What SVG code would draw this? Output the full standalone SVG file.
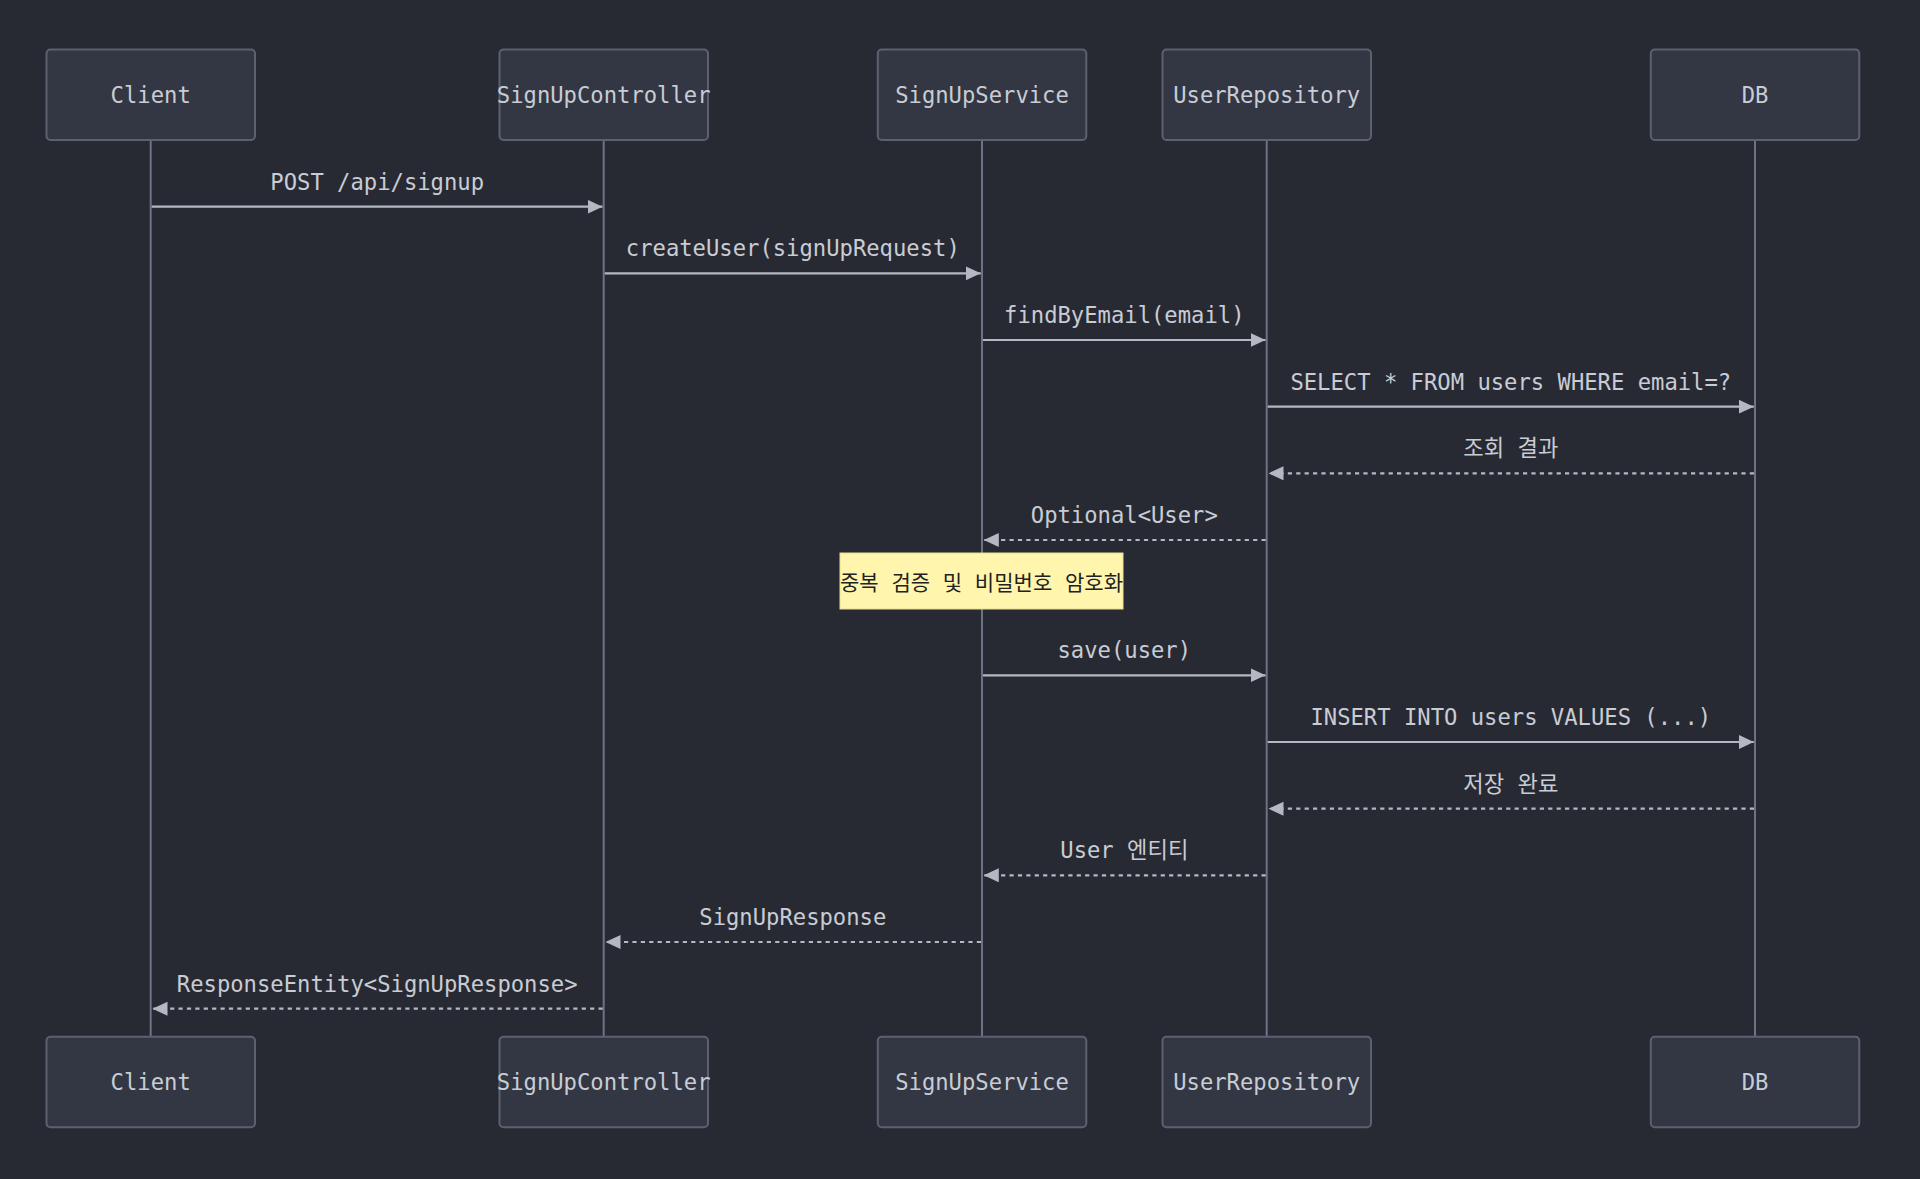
<svg xmlns="http://www.w3.org/2000/svg" width="1920" height="1179" viewBox="0 0 1920 1179">
<style>
.bg{fill:#282a33}
.actor rect{fill:#333743;stroke:#5b6170;stroke-width:2}
.actor text{fill:#c8ccd4;font-family:"DejaVu Sans Mono","Noto Sans CJK KR",monospace;font-size:22.2px;text-anchor:middle}
.life{stroke:#6b7385;stroke-width:2}
.msg{stroke:#b4b8c2;stroke-width:2.2;fill:none}
.dash{stroke-dasharray:4.2,4.2}
.lbl{fill:#c8ccd4;font-family:"DejaVu Sans Mono","Noto Sans CJK KR",monospace;font-size:22.2px;text-anchor:middle}
.note rect{fill:#fff5ad;stroke:#e8dc94;stroke-width:1}
.note text{fill:#222222;font-family:"DejaVu Sans Mono","Noto Sans CJK KR",monospace;font-size:21px;text-anchor:middle}
</style>
<defs>
<marker id="ah" markerUnits="userSpaceOnUse" markerWidth="16" markerHeight="15" refX="15" refY="7" orient="auto">
<path d="M0,0 L15,7 L0,14 z" fill="#b4b8c2"/>
</marker>
</defs>
<rect class="bg" x="0" y="0" width="1920" height="1179"/>
<g id="lifelines">
<line class="life" x1="150.7" y1="140" x2="150.7" y2="1037"/>
<line class="life" x1="603.7" y1="140" x2="603.7" y2="1037"/>
<line class="life" x1="982" y1="140" x2="982" y2="1037"/>
<line class="life" x1="1266.7" y1="140" x2="1266.7" y2="1037"/>
<line class="life" x1="1755" y1="140" x2="1755" y2="1037"/>
</g>
<g id="actor-client-top" class="actor"><rect x="46.5" y="49.5" width="208.5" height="90.5" rx="4"/><text x="150.7" y="103">Client</text></g>
<g id="actor-controller-top" class="actor"><rect x="499.5" y="49.5" width="208.5" height="90.5" rx="4"/><text x="603.7" y="103">SignUpController</text></g>
<g id="actor-service-top" class="actor"><rect x="877.8" y="49.5" width="208.5" height="90.5" rx="4"/><text x="982" y="103">SignUpService</text></g>
<g id="actor-repo-top" class="actor"><rect x="1162.5" y="49.5" width="208.5" height="90.5" rx="4"/><text x="1266.7" y="103">UserRepository</text></g>
<g id="actor-db-top" class="actor"><rect x="1650.8" y="49.5" width="208.5" height="90.5" rx="4"/><text x="1755" y="103">DB</text></g>
<g id="actor-client-bottom" class="actor"><rect x="46.5" y="1036.8" width="208.5" height="90.5" rx="4"/><text x="150.7" y="1090">Client</text></g>
<g id="actor-controller-bottom" class="actor"><rect x="499.5" y="1036.8" width="208.5" height="90.5" rx="4"/><text x="603.7" y="1090">SignUpController</text></g>
<g id="actor-service-bottom" class="actor"><rect x="877.8" y="1036.8" width="208.5" height="90.5" rx="4"/><text x="982" y="1090">SignUpService</text></g>
<g id="actor-repo-bottom" class="actor"><rect x="1162.5" y="1036.8" width="208.5" height="90.5" rx="4"/><text x="1266.7" y="1090">UserRepository</text></g>
<g id="actor-db-bottom" class="actor"><rect x="1650.8" y="1036.8" width="208.5" height="90.5" rx="4"/><text x="1755" y="1090">DB</text></g>
<g id="messages">
<line class="msg" x1="151.7" y1="206.7" x2="602.5" y2="206.7" marker-end="url(#ah)"/>
<text class="lbl" x="377.2" y="189.7">POST /api/signup</text>
<line class="msg" x1="604.7" y1="273.3" x2="980.8" y2="273.3" marker-end="url(#ah)"/>
<text class="lbl" x="792.8" y="256.3">createUser(signUpRequest)</text>
<line class="msg" x1="983" y1="340" x2="1265.5" y2="340" marker-end="url(#ah)"/>
<text class="lbl" x="1124.3" y="323">findByEmail(email)</text>
<line class="msg" x1="1267.7" y1="406.7" x2="1753.8" y2="406.7" marker-end="url(#ah)"/>
<text class="lbl" x="1510.8" y="389.7">SELECT * FROM users WHERE email=?</text>
<line class="msg dash" x1="1754" y1="473.3" x2="1268.5" y2="473.3" marker-end="url(#ah)"/>
<text class="lbl" x="1510.8" y="456.3">조회 결과</text>
<line class="msg dash" x1="1265.7" y1="540" x2="983.8" y2="540" marker-end="url(#ah)"/>
<text class="lbl" x="1124.3" y="523">Optional&lt;User&gt;</text>
<line class="msg" x1="983" y1="675.3" x2="1265.5" y2="675.3" marker-end="url(#ah)"/>
<text class="lbl" x="1124.3" y="658.3">save(user)</text>
<line class="msg" x1="1267.7" y1="742" x2="1753.8" y2="742" marker-end="url(#ah)"/>
<text class="lbl" x="1510.8" y="725">INSERT INTO users VALUES (...)</text>
<line class="msg dash" x1="1754" y1="808.7" x2="1268.5" y2="808.7" marker-end="url(#ah)"/>
<text class="lbl" x="1510.8" y="791.7">저장 완료</text>
<line class="msg dash" x1="1265.7" y1="875.3" x2="983.8" y2="875.3" marker-end="url(#ah)"/>
<text class="lbl" x="1124.3" y="858.3">User 엔티티</text>
<line class="msg dash" x1="981" y1="942" x2="605.5" y2="942" marker-end="url(#ah)"/>
<text class="lbl" x="792.8" y="925">SignUpResponse</text>
<line class="msg dash" x1="602.7" y1="1008.7" x2="152.5" y2="1008.7" marker-end="url(#ah)"/>
<text class="lbl" x="377.2" y="991.7">ResponseEntity&lt;SignUpResponse&gt;</text>
</g>
<g id="note" class="note"><rect x="840" y="553" width="283" height="56"/><text x="981.5" y="590" textLength="283" lengthAdjust="spacingAndGlyphs">중복 검증 및 비밀번호 암호화</text></g>
</svg>
